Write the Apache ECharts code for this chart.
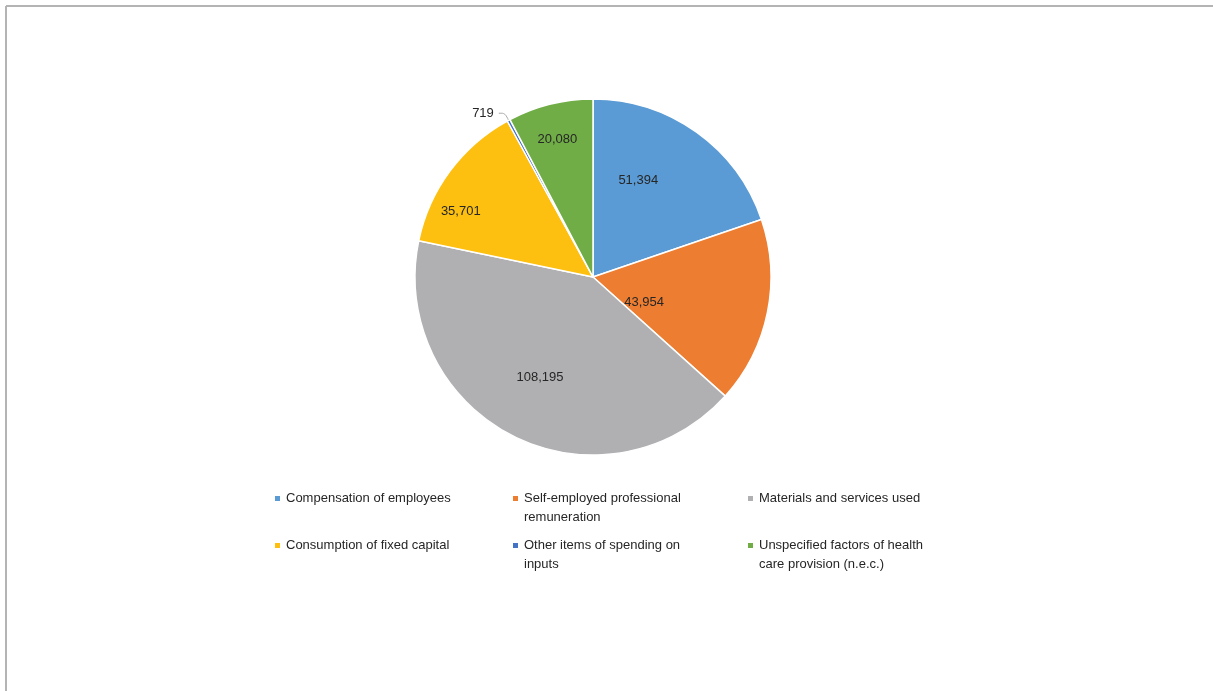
<!DOCTYPE html>
<html>
<head>
<meta charset="utf-8">
<script src="https://cdn.jsdelivr.net/npm/echarts@6/dist/echarts.min.js"></script>
<style>
html,body{margin:0;padding:0;background:#fff;}
#chart{width:1213px;height:691px;}
</style>
</head>
<body>
<div id="chart"></div>
<script>
// ---- data ----
const categories = [
  'Compensation of employees',
  'Self-employed professional remuneration',
  'Materials and services used',
  'Consumption of fixed capital',
  'Other items of spending on inputs',
  'Unspecified factors of health care provision (n.e.c.)'
];
const values = [51394, 43954, 108195, 35701, 719, 20080];
const legendLabels = [
  'Compensation of employees',
  'Self-employed professional\nremuneration',
  'Materials and services used',
  'Consumption of fixed capital',
  'Other items of spending on\ninputs',
  'Unspecified factors of health\ncare provision (n.e.c.)'
];

// ---- style ----
const colors = ['#5B9BD5', '#ED7D31', '#B0B0B3', '#FDC010', '#4472C4', '#70AD47'];
const C = [593, 277];
const R = 178;
// label placement inside slices: [radius fraction, angle shift in degrees]
const labelPlace = [[0.60, -10.5], [0.32, 14.5], [0.64, 0.8], [0.83, -10], null, [0.80, -0.6]];

const chart = echarts.init(document.getElementById('chart'), null, {renderer: 'canvas'});

const fontFamily = 'Liberation Sans, Arial, sans-serif';
const legendPos = [
  [268, 484], [506, 484], [741, 484],
  [268, 531], [506, 531], [741, 531]
];
const tallIcon = 'path://M0,0L7,0L7,7L0,7Z M0,26L0.01,26';

const legends = categories.map((name, i) => {
  const wrapped = legendLabels[i].indexOf('\n') >= 0;
  return {
    show: true,
    left: legendPos[i][0],
    top: legendPos[i][1],
    orient: 'vertical',
    itemWidth: 7,
    itemHeight: wrapped ? 26 : 7,
    itemGap: 0,
    icon: wrapped ? tallIcon : 'rect',
    data: [name],
    formatter: () => legendLabels[i],
    textStyle: {fontFamily, fontSize: 13, color: '#262626', lineHeight: 19, padding: [0, 0, 0, 0]},
    selectedMode: false
  };
});

const pieData = categories.map((name, i) => {
  const item = {name, value: values[i], itemStyle: {color: colors[i]}};
  if (labelPlace[i] === null) {
    item.label = {position: 'outside', show: true};
    item.labelLine = {show: true, length: 8, length2: 6, smooth: 0.3, lineStyle: {color: '#A6A6A6', width: 1}};
  }
  return item;
});

chart.setOption({
  animation: false,
  backgroundColor: '#ffffff',
  legend: legends,
  graphic: [
    {type: 'line', shape: {x1: 6, y1: 6, x2: 1213, y2: 6}, style: {stroke: '#B4B4B4', lineWidth: 2}},
    {type: 'line', shape: {x1: 6, y1: 6, x2: 6, y2: 691}, style: {stroke: '#B4B4B4', lineWidth: 2}}
  ],
  series: [{
    type: 'pie',
    center: C,
    radius: R,
    startAngle: 90,
    clockwise: true,
    avoidLabelOverlap: false,
    data: pieData,
    itemStyle: {borderColor: '#ffffff', borderWidth: 1.5},
    label: {
      show: true,
      position: 'inside',
      fontFamily,
      fontSize: 13,
      color: '#262626',
      formatter: p => p.value.toLocaleString('en-US')
    },
    labelLine: {show: false},
    labelLayout: function (params) {
      const place = labelPlace[params.dataIndex];
      if (!place) return {};
      const r = params.labelRect;
      const cx = r.x + r.width / 2, cy = r.y + r.height / 2;
      const ang = Math.atan2(cy - C[1], cx - C[0]) + place[1] * Math.PI / 180;
      const rad = place[0] * R;
      return {x: C[0] + rad * Math.cos(ang), y: C[1] + rad * Math.sin(ang)};
    }
  }]
});
</script>
</body>
</html>
